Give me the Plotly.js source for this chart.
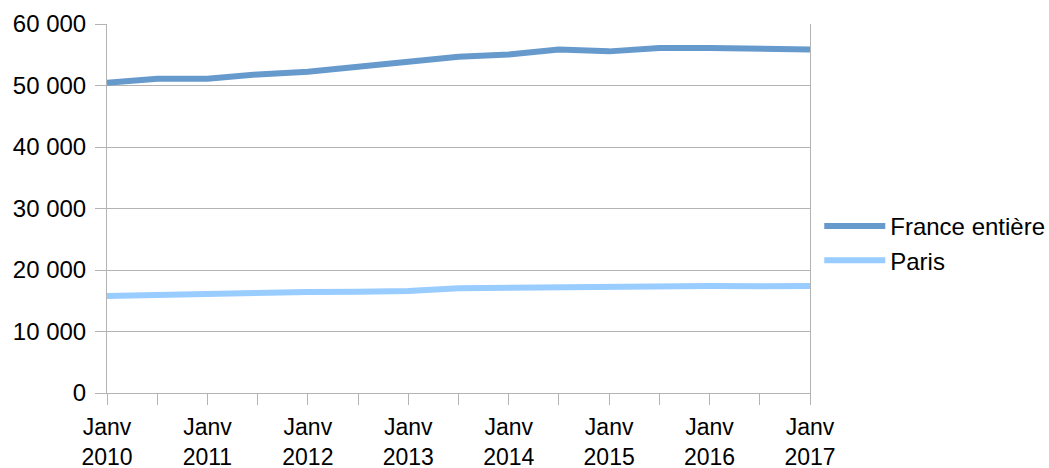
<!DOCTYPE html>
<html>
<head>
<meta charset="utf-8">
<script src="https://cdn.plot.ly/plotly-3.0.1.min.js"></script>
<style>html,body{margin:0;padding:0;background:#fff}#chart{width:1049px;height:468px}</style>
</head>
<body>
<div id="chart"></div>
<script>
// Half-yearly periods, Janv 2010 .. Janv 2017
var periods = ["Janv 2010","Juil 2010","Janv 2011","Juil 2011","Janv 2012","Juil 2012","Janv 2013","Juil 2013","Janv 2014","Juil 2014","Janv 2015","Juil 2015","Janv 2016","Juil 2016","Janv 2017"];
var franceEntiere = [50450, 51100, 51100, 51800, 52240, 53050, 53860, 54680, 55050, 55870, 55550, 56080, 56080, 55870, 55870];
var paris = [15780, 15990, 16150, 16310, 16430, 16480, 16590, 17020, 17130, 17130, 17290, 17340, 17400, 17340, 17400];
var tickLabels = ["Janv<br>2010","","Janv<br>2011","","Janv<br>2012","","Janv<br>2013","","Janv<br>2014","","Janv<br>2015","","Janv<br>2016","","Janv<br>2017"];
var yTickVals = [0,10000,20000,30000,40000,50000,60000];
var yTickText = ["0","10 000","20 000","30 000","40 000","50 000","60 000"];

var idx = periods.map(function(_, i){ return i; });

var traces = [
  {x: idx, y: franceEntiere, name: "France entière", type: "scatter", mode: "lines",
   line: {color: "#6699cc", width: 6}},
  {x: idx, y: paris, name: "Paris", type: "scatter", mode: "lines",
   line: {color: "#99ccff", width: 6}}
];

var layout = {
  width: 1049, height: 468,
  margin: {l: 107, r: 239, t: 24, b: 74.5, pad: 0},
  paper_bgcolor: "#ffffff", plot_bgcolor: "#ffffff",
  font: {family: "Liberation Sans, Arial, sans-serif", size: 24, color: "#000"},
  showlegend: true,
  legend: {xref: "container", yref: "container", x: 0.781, xanchor: "left", y: 0.48, yanchor: "middle",
           font: {size: 24}, itemwidth: 61, tracegroupgap: 0, bgcolor: "rgba(0,0,0,0)"},
  xaxis: {
    range: [0, 14], tickmode: "array", tickvals: idx, ticktext: tickLabels,
    tickfont: {size: 23},
    ticks: "outside", ticklen: 11, tickcolor: "#b3b3b3", tickwidth: 1,
    ticklabelstandoff: 2,
    showgrid: false, zeroline: false,
    showline: true, linecolor: "#b3b3b3", linewidth: 1, mirror: false,
    tickangle: 0, automargin: false
  },
  yaxis: {
    range: [0, 60000], tickmode: "array", tickvals: yTickVals, ticktext: yTickText,
    ticks: "outside", ticklen: 11, tickcolor: "#b3b3b3", tickwidth: 1,
    ticklabelstandoff: 4,
    showgrid: true, gridcolor: "#b3b3b3", gridwidth: 1, zeroline: false,
    showline: true, linecolor: "#b3b3b3", linewidth: 1, mirror: true,
    automargin: false
  }
};

Plotly.newPlot("chart", traces, layout, {staticPlot: true, displayModeBar: false});
</script>
</body>
</html>
